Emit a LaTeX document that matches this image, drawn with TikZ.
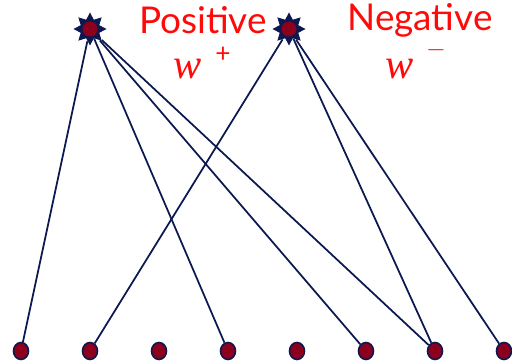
\documentclass[tikz,border=0pt]{standalone}
\usepackage{fontspec}
\setsansfont{Lato}
\newfontfamily\wfont{Liberation Serif}
\usepackage{xcolor}
\usepackage{tikz}
\usetikzlibrary{shapes.geometric}

\definecolor{navyline}{RGB}{12,24,80}
\definecolor{darkred}{RGB}{140,0,30}
\definecolor{labelred}{RGB}{255,10,10}

\tikzset{
  unit/.style={ellipse,draw=navyline,fill=darkred,line width=0.9pt,
    minimum width=0.3cm,minimum height=0.34cm,inner sep=0pt},
  hub/.style={star,star points=8,star point ratio=1.65,fill=navyline,
    minimum size=0.66cm,inner sep=0pt},
  wire/.style={navyline,line width=1pt},
  lbl/.style={text=labelred,inner sep=0pt,font=\sffamily\fontsize{21}{24}\selectfont},
  wsym/.style={text=labelred,inner sep=0pt,font=\wfont\itshape\fontsize{24}{24}\selectfont},
  sgn/.style={text=labelred,inner sep=0pt,font=\sffamily\fontsize{15}{15}\selectfont},
}

\begin{document}
\begin{tikzpicture}
  \useasboundingbox (0,0) rectangle (10.24,7.24);
  % --- Nodos de salida ---
  \node[hub] (pos) at (1.80,6.66) {};
  \fill[darkred] (pos.center) circle (0.15);
  \node[hub] (neg) at (5.78,6.66) {};
  \fill[darkred] (neg.center) circle (0.15);
  % --- Etiquetas ---
  \node[lbl] (tpos) at (4.06,6.84) {Positive};
  \node[lbl] (tneg) at (8.40,6.84) {Negative};
  \node[wsym] (wpos) at (3.76,5.86) {w};
  \node[sgn] (ppos) at (4.46,6.14) {+};
  \node[wsym] (wneg) at (8.00,5.86) {w};
  \node[sgn,text height=0.2cm,text depth=0cm] (pneg) at (8.72,6.20) {$\smash{-}$};
  % --- Nodos de entrada ---
  \foreach \i in {1,...,8}
    \node[unit] (in\i) at ({0.42+1.38*(\i-1)},0.22) {};
  % --- Conexiones ---
  \draw[wire] (pos) -- (in1);
  \draw[wire] (pos) -- (in4);
  \draw[wire] (pos) -- (in6);
  \draw[wire] (pos) -- (in7);
  \draw[wire] (neg) -- (in2);
  \draw[wire] (neg) -- (in7);
  \draw[wire] (neg) -- (in8);
\end{tikzpicture}
\end{document}
